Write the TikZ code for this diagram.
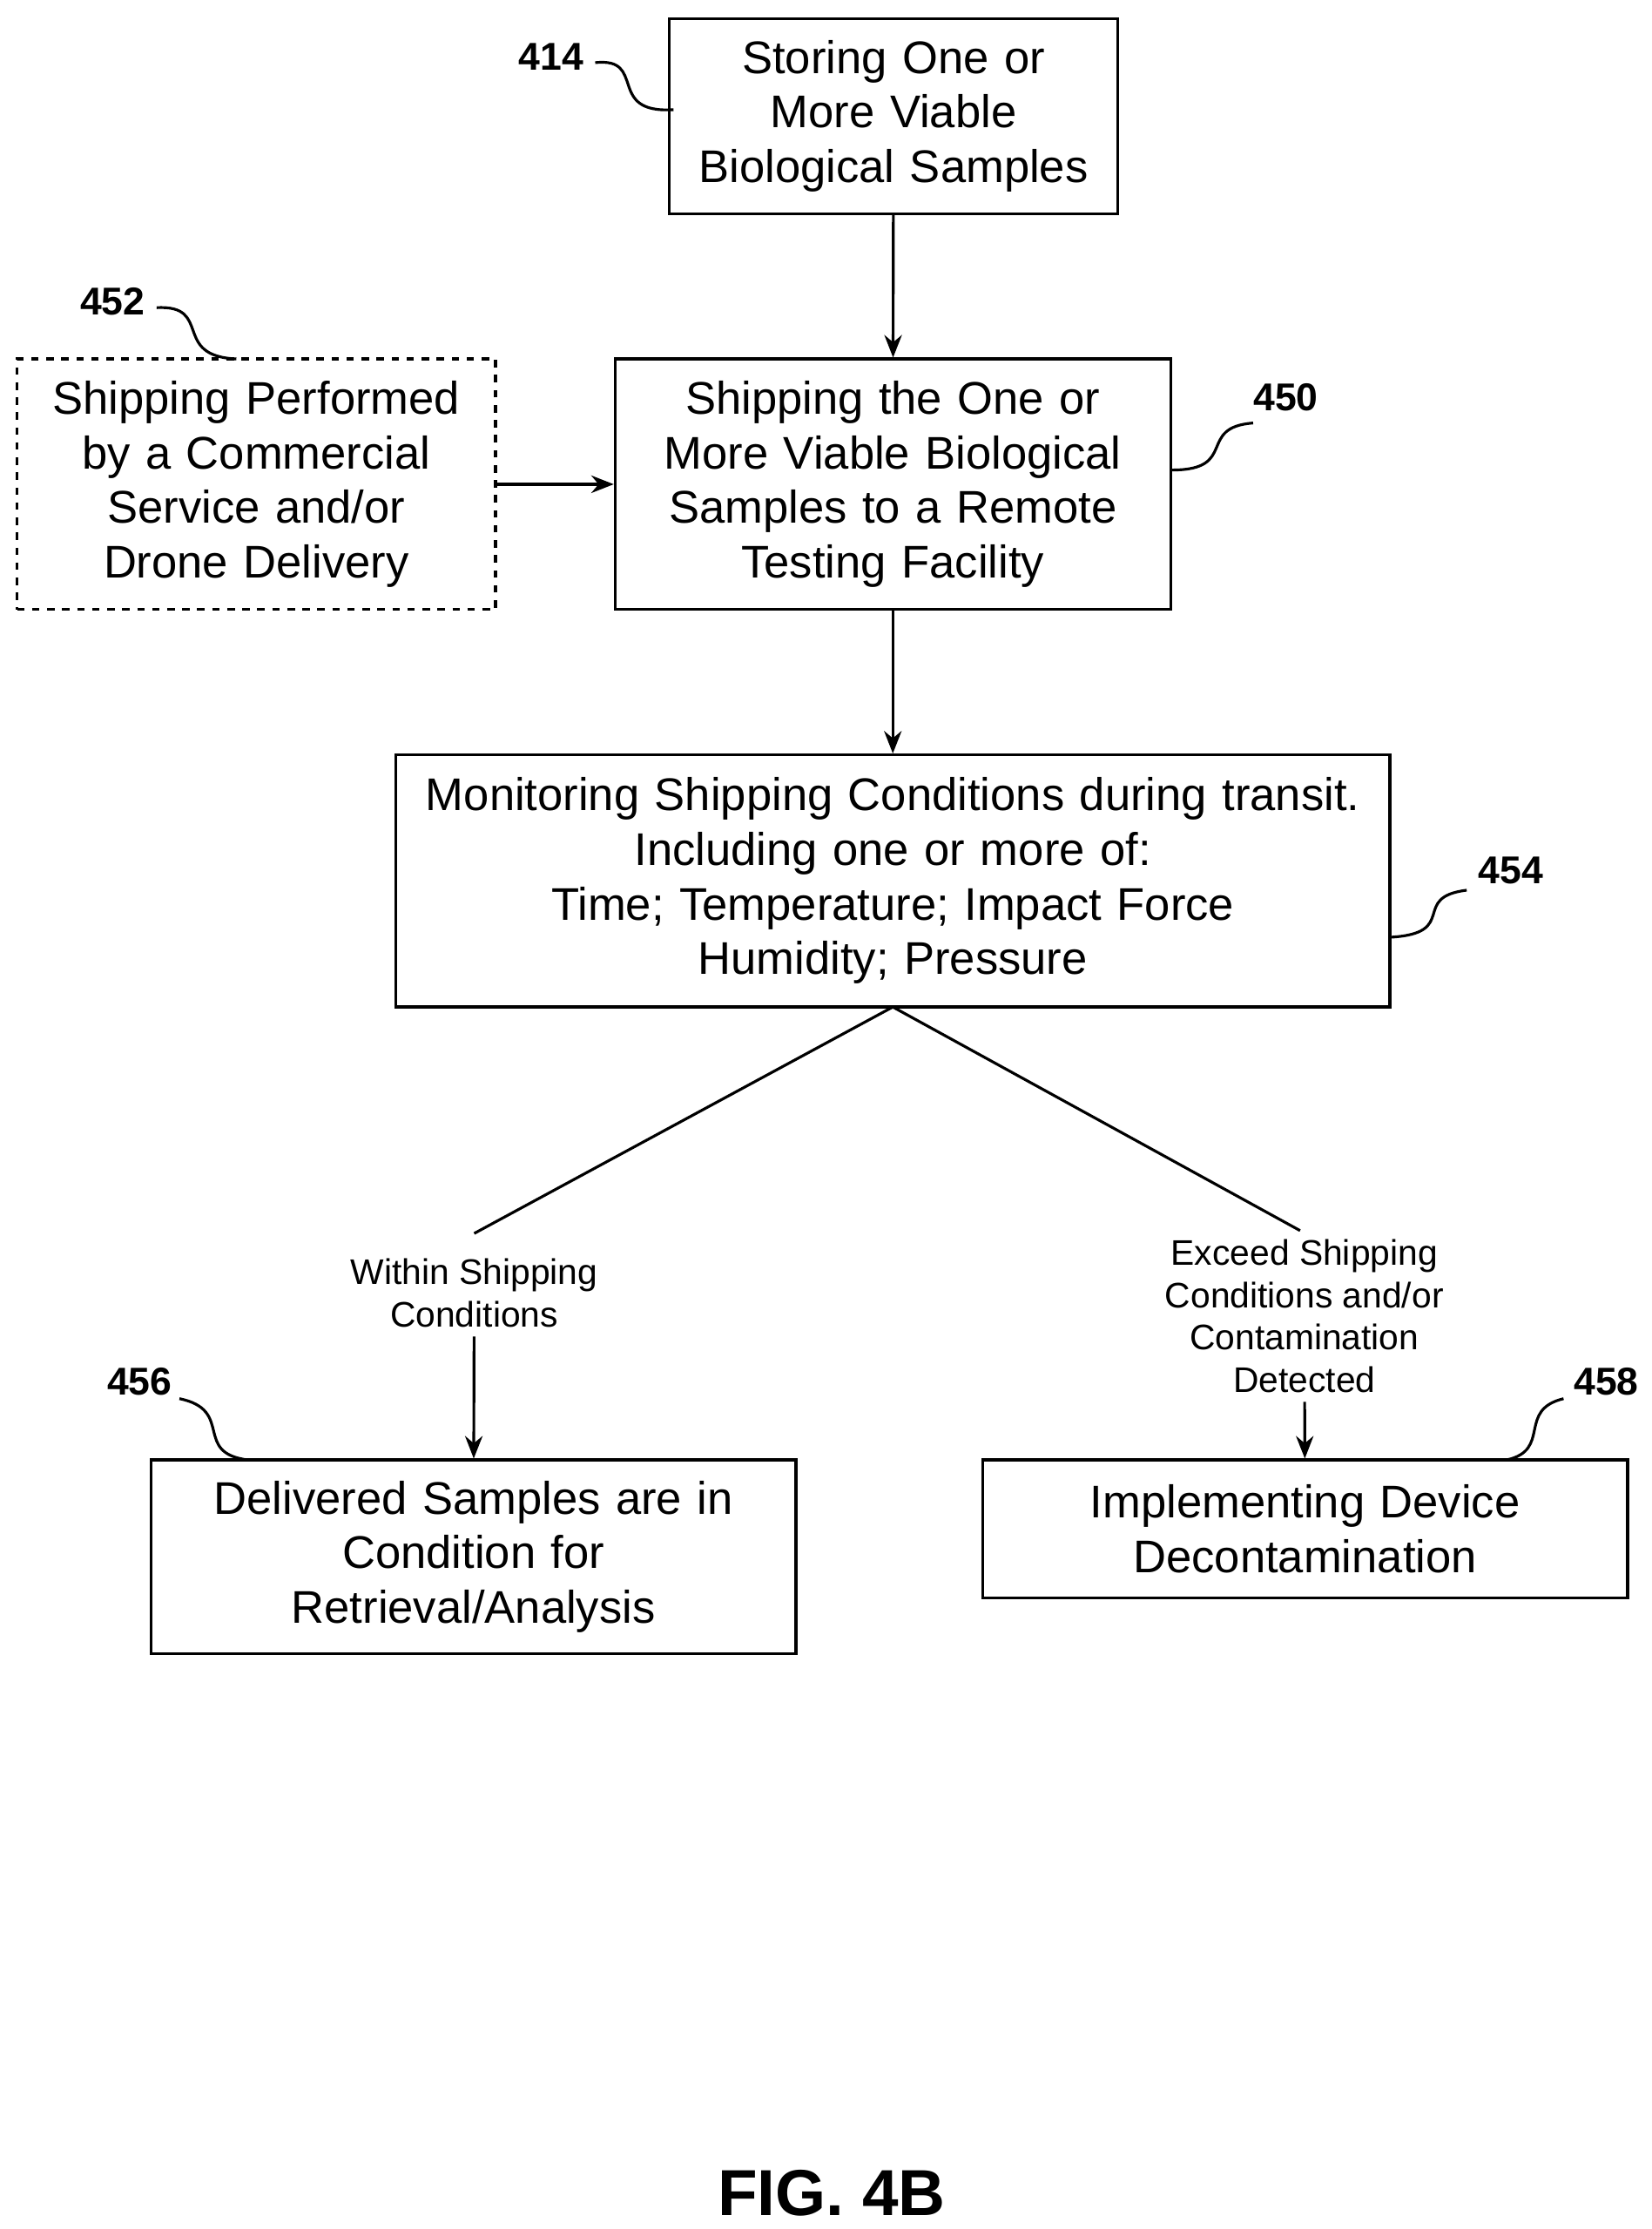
\documentclass[tikz,border=0pt]{standalone}
\usepackage{fontspec}
\setmainfont{Liberation Sans}
\usetikzlibrary{arrows.meta,positioning}
\tikzset{
  stage/.style={draw, line width=1.1pt, align=center, inner sep=0pt, font=\fontsize{18.3}{21.8}\selectfont},
  cond/.style={align=center, font=\fontsize{14.2}{17}\selectfont},
  ref/.style={font=\bfseries\fontsize{15.5}{17}\selectfont},
  flow/.style={line width=1.1pt, -{Stealth[length=9pt, width=7pt]}},
  lead/.style={line width=1.1pt}
}
\begin{document}
\begin{tikzpicture}[x=0.02cm, y=-0.02cm]
  \useasboundingbox (0,0) rectangle (1160,1565);

  % stages
  \node[stage, text width=310*0.02cm, minimum width=315*0.02cm, minimum height=137*0.02cm] (store) at (627.5,81.5) {Storing One or\\More Viable\\Biological Samples};
  \node[stage, text width=385*0.02cm, minimum width=390*0.02cm, minimum height=176*0.02cm] (ship) at (627,340) {Shipping the One or\\More Viable Biological\\Samples to a Remote\\Testing Facility};
  \node[stage, dashed, text width=332*0.02cm, minimum width=336*0.02cm, minimum height=176*0.02cm] (carrier) at (180,340) {Shipping Performed\\by a Commercial\\Service and/or\\Drone Delivery};
  \node[stage, text width=694*0.02cm, minimum width=698*0.02cm, minimum height=177*0.02cm] (monitor) at (627,618.5) {Monitoring Shipping Conditions during transit.\\Including one or more of:\\Time; Temperature; Impact Force\\Humidity; Pressure};
  \node[stage, text width=448*0.02cm, minimum width=453*0.02cm, minimum height=136*0.02cm] (deliver) at (332.5,1093) {Delivered Samples are in\\Condition for\\Retrieval/Analysis};
  \node[stage, text width=448*0.02cm, minimum width=453*0.02cm, minimum height=97*0.02cm] (decon) at (916.5,1073.5) {Implementing Device\\Decontamination};

  % branch labels
  \node[cond] (within) at (333,908) {Within Shipping\\Conditions};
  \node[cond] (exceed) at (916,924) {Exceed Shipping\\Conditions and/or\\Contamination\\Detected};
  \coordinate (split) at (627,707);
  \coordinate (lefttip) at (333,866);
  \coordinate (righttip) at (913,864);

  % connectors
  \draw[flow] (store) -- (ship);
  \draw[flow] (carrier) -- (ship);
  \draw[flow] (ship) -- (monitor);
  \draw[lead] (split) -- (lefttip);
  \draw[lead] (split) -- (righttip);
  \draw[flow] (within) -- (deliver);
  \draw[flow] (exceed) -- (decon);

  % reference numerals
  \node[ref] (r414) at (387,40) {414};
  \node[ref] (r452) at (79,212) {452};
  \node[ref] (r450) at (903,279) {450};
  \node[ref] (r454) at (1061,611) {454};
  \node[ref] (r456) at (98,970) {456};
  \node[ref] (r458) at (1128,970) {458};
  \draw[lead] (418,44) .. controls (455,40) and (425,80) .. (473,77);
  \draw[lead] (110,216) .. controls (150,214) and (120,250) .. (166,252);
  \draw[lead] (880,297) .. controls (840,300) and (870,330) .. (823,330);
  \draw[lead] (1030,625) .. controls (990,630) and (1025,655) .. (977,658);
  \draw[lead] (126,982) .. controls (165,990) and (135,1020) .. (174,1025);
  \draw[lead] (1098,982) .. controls (1065,990) and (1090,1018) .. (1058,1025);

  \node[font=\bfseries\fontsize{26}{30}\selectfont] (fig) at (584,1540) {FIG. 4B};
\end{tikzpicture}
\end{document}
